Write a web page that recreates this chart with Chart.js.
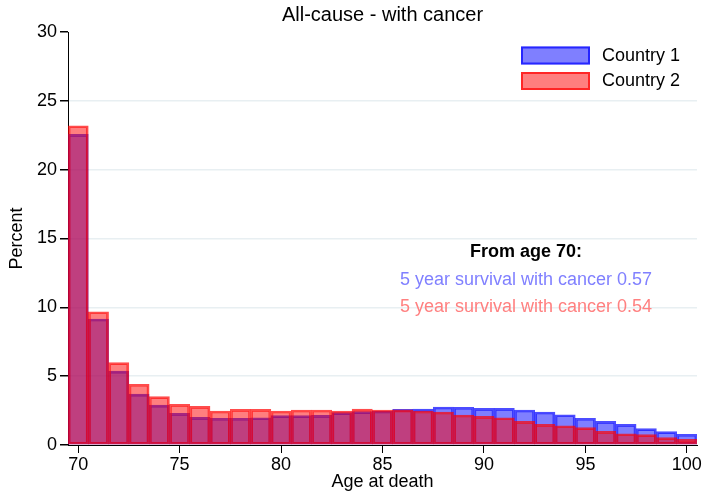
<!DOCTYPE html>
<html>
<head>
<meta charset="utf-8">
<title>All-cause - with cancer</title>
<script src="https://cdn.jsdelivr.net/npm/chart.js@4.4.0/dist/chart.umd.min.js"></script>
<style>
  html, body { margin: 0; padding: 0; background: #fff; }
  #wrap { width: 704px; height: 494px; }
</style>
</head>
<body>
<div id="wrap"><canvas id="myChart"></canvas></div>
<script>
// age at death (one-year bins)
const ages = [70, 71, 72, 73, 74, 75, 76, 77, 78, 79, 80, 81, 82, 83, 84, 85,
              86, 87, 88, 89, 90, 91, 92, 93, 94, 95, 96, 97, 98, 99, 100];
// percent of deaths
const country1 = [22.56, 9.15, 5.37, 3.70, 2.90, 2.30, 2.01, 1.94, 1.94, 1.98, 2.13,
                  2.13, 2.15, 2.35, 2.42, 2.47, 2.60, 2.61, 2.76, 2.74, 2.66, 2.66,
                  2.54, 2.40, 2.20, 1.94, 1.72, 1.50, 1.19, 0.97, 0.78];
const country2 = [23.19, 9.68, 5.98, 4.41, 3.51, 2.95, 2.81, 2.47, 2.59, 2.59, 2.47,
                  2.54, 2.54, 2.47, 2.61, 2.54, 2.55, 2.47, 2.40, 2.18, 2.08, 1.98,
                  1.72, 1.50, 1.40, 1.26, 0.99, 0.82, 0.75, 0.53, 0.41];
const seriesNames = ['Country 1', 'Country 2'];
const xTicks = [70, 75, 80, 85, 90, 95, 100];
const yTicks = [0, 5, 10, 15, 20, 25, 30];
const noteLines = ['From age 70:', '5 year survival with cancer 0.57', '5 year survival with cancer 0.54'];

const fontFamily = "'Liberation Sans', Arial, Helvetica, sans-serif";
Chart.defaults.font.family = fontFamily;
Chart.defaults.color = '#000';

// legend box in the top right corner of the plot
const boxLegend = {
  id: 'boxLegend',
  afterDraw(chart) {
    const ctx = chart.ctx;
    const area = chart.chartArea;
    ctx.save();
    ctx.font = '18px ' + fontFamily;
    ctx.textBaseline = 'middle';
    ctx.textAlign = 'left';
    chart.data.datasets.forEach((ds, i) => {
      const x = area.right - 176;
      const y = area.top + 14.5 + i * 25.5;
      ctx.fillStyle = ds.backgroundColor;
      ctx.fillRect(x, y, 69, 18);
      ctx.strokeStyle = ds.borderColor;
      ctx.lineWidth = 2;
      ctx.strokeRect(x + 1, y + 1, 67, 16);
      ctx.fillStyle = '#000';
      ctx.fillText(ds.label, x + 81, y + 9.5);
    });
    ctx.restore();
  }
};

// survival note
const survivalNote = {
  id: 'survivalNote',
  afterDraw(chart) {
    const ctx = chart.ctx;
    const xs = chart.scales.x;
    const ys = chart.scales.y;
    const cx = xs.getPixelForValue(92.07);
    const colors = ['#000', '#8080ff', '#ff8080'];
    const rows = [14, 12, 10];
    ctx.save();
    ctx.textAlign = 'center';
    ctx.textBaseline = 'middle';
    noteLines.forEach((t, i) => {
      ctx.font = (i === 0 ? 'bold ' : '') + '18px ' + fontFamily;
      ctx.fillStyle = colors[i];
      ctx.fillText(t, cx, ys.getPixelForValue(rows[i]));
    });
    ctx.restore();
  }
};

const ctx = document.getElementById('myChart');
new Chart(ctx, {
  type: 'bar',
  data: {
    datasets: [{
      label: seriesNames[0],
      data: ages.map((a, i) => ({x: a, y: country1[i]})),
      backgroundColor: 'rgba(0,0,255,0.5)',
      borderColor: 'rgba(0,0,255,0.7)',
      borderWidth: 2,
      borderSkipped: false,
      order: 1
    }, {
      label: seriesNames[1],
      data: ages.map((a, i) => ({x: a, y: country2[i]})),
      backgroundColor: 'rgba(255,0,0,0.5)',
      borderColor: 'rgba(255,0,0,0.7)',
      borderWidth: 2,
      borderSkipped: false,
      order: 0
    }]
  },
  options: {
    responsive: true,
    maintainAspectRatio: false,
    animation: false,
    grouped: false,
    barPercentage: 1,
    categoryPercentage: 1,
    layout: { padding: { left: 0, right: 7, top: 0, bottom: 0 } },
    plugins: {
      legend: { display: false },
      tooltip: { enabled: false },
      title: {
        display: true,
        fullSize: false,
        text: 'All-cause - with cancer',
        color: '#000',
        font: { size: 20, weight: 'normal' },
        padding: { top: 3.5, bottom: 4.5 }
      }
    },
    scales: {
      x: {
        type: 'linear',
        min: 69.5,
        max: 100.5,
        offset: false,
        afterBuildTicks: s => { s.ticks = xTicks.map(v => ({value: v})); },
        afterFit: s => { s.height = 49; },
        ticks: { font: { size: 18 }, color: '#000', padding: 1, maxRotation: 0 },
        grid: { offset: false, drawOnChartArea: false, tickLength: 8, tickColor: '#000' },
        border: { color: '#000', width: 1 },
        title: { display: true, text: 'Age at death', font: { size: 18 }, color: '#000', padding: { top: 0, bottom: 1 } }
      },
      y: {
        min: 0,
        max: 30,
        afterBuildTicks: s => { s.ticks = yTicks.map(v => ({value: v})); },
        afterFit: s => { s.width = 68; },
        ticks: { font: { size: 18 }, color: '#000', padding: 3 },
        grid: {
          tickLength: 8,
          tickColor: '#000',
          color: c => (c.tick && (c.tick.value === 0 || c.tick.value === 30)) ? 'rgba(0,0,0,0)' : '#e8eff2',
          lineWidth: 1.5
        },
        border: { color: '#000', width: 1 },
        title: { display: true, text: 'Percent', font: { size: 18 }, color: '#000', padding: { top: 6.7, bottom: 0 } }
      }
    }
  },
  plugins: [boxLegend, survivalNote]
});
</script>
</body>
</html>
